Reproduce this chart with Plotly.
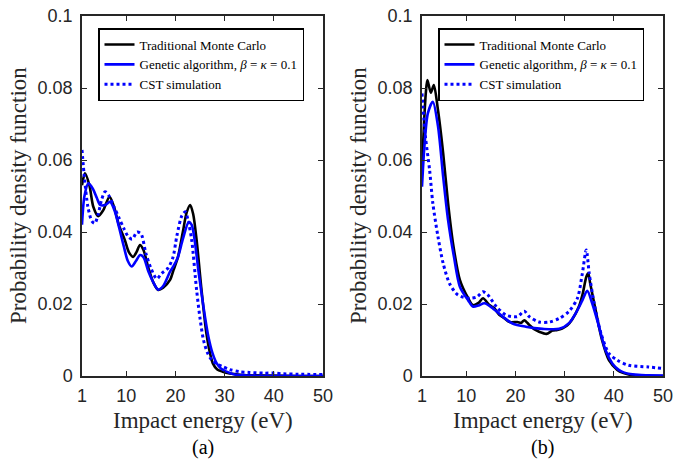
import plotly.graph_objects as go

# ---------------- data ----------------
# Panel (a)
a_mc_E = [1, 1.6, 2.5, 3.3, 4.3, 5.3, 6.6, 7.5, 8.5, 9.7, 10.5, 11.4, 12.1, 12.8, 13.5, 14.5, 15.5,
          16.5, 17.5, 18.9, 19.6, 20.5, 21.5, 22.3, 23.0, 23.6, 24.3, 25.3, 26.3, 27.0, 27.6, 28.5,
          29.6, 31, 32.3, 35, 40, 45, 50]
a_mc_V = [0.053, 0.0563, 0.053, 0.047, 0.0444, 0.046, 0.0498, 0.047, 0.042, 0.0378, 0.0345, 0.0331,
          0.0345, 0.0364, 0.035, 0.030, 0.026, 0.0239, 0.0245, 0.0267, 0.0294, 0.033, 0.040, 0.0455,
          0.0475, 0.045, 0.0378, 0.0239, 0.0118, 0.0065, 0.0035, 0.0018, 0.0012, 0.0007, 0.0005,
          0.0002, 0.0001, 0.0, 0.0]

a_ga_E = [1, 1.5, 2.3, 3.2, 4.0, 4.7, 5.7, 6.7, 7.6, 8.5, 9.5, 10.3, 11.1, 12.0, 12.8, 13.5, 14.5,
          15.5, 16.5, 17.5, 18.9, 19.6, 20.5, 21.5, 22.7, 23.3, 24.0, 24.6, 25.3, 26.0, 26.7, 27.5,
          28.4, 29.3, 30.4, 32, 35, 40, 50]
a_ga_V = [0.042, 0.050, 0.0535, 0.052, 0.0495, 0.0475, 0.0475, 0.0484, 0.046, 0.0415, 0.036, 0.032,
          0.0304, 0.032, 0.0336, 0.033, 0.029, 0.026, 0.024, 0.025, 0.029, 0.0305, 0.033, 0.038,
          0.0428, 0.042, 0.0368, 0.030, 0.023, 0.0165, 0.0109, 0.0065, 0.0035, 0.002, 0.0012,
          0.0004, 0.0001, 0.0, 0.0]

a_cst_E = [1, 1.5, 2.2, 3.0, 3.6, 4.3, 5.0, 5.7, 6.5, 7.5, 8.5, 9.5, 10.4, 11.2, 12.2, 13.0, 14.0,
           15.0, 16.2, 17.2, 18.5, 19.5, 20.3, 21.3, 22.0, 22.6, 23.3, 24.3, 25.0, 25.7, 26.5,
           27.4, 28.5, 29.6, 31, 33, 35, 38, 40, 42, 45, 50]
a_cst_V = [0.0628, 0.055, 0.047, 0.043, 0.0424, 0.045, 0.049, 0.0512, 0.050, 0.047, 0.044, 0.041,
           0.0387, 0.038, 0.040, 0.0395, 0.034, 0.030, 0.027, 0.0285, 0.030, 0.033, 0.039, 0.0445,
           0.0456, 0.043, 0.0378, 0.0239, 0.016, 0.0100, 0.0065, 0.0044, 0.0033, 0.0026, 0.0018,
           0.0012, 0.001, 0.0008, 0.0008, 0.0006, 0.0005, 0.0004]

# Panel (b)
b_mc_E = [1, 1.4, 1.8, 2.1, 2.8, 3.4, 4.25, 5.3, 6.3, 7.3, 8.7, 10.4, 11.35, 12.5, 13.4, 14.7, 15.7,
          16.7, 17.8, 18.8, 20.4, 21.2, 21.8, 22.8, 23.8, 24.8, 26.3, 27.5, 28.5, 29.5, 30.5, 31.5,
          32.9, 33.7, 34.4, 34.8, 35.2, 36.3, 37.6, 39.0, 40.7, 42, 43, 45, 47, 50]
b_mc_V = [0.0572, 0.070, 0.079, 0.0822, 0.0787, 0.0808, 0.0739, 0.0619, 0.048, 0.0369, 0.0267,
          0.0216, 0.0197, 0.0203, 0.0216, 0.0197, 0.0188, 0.017, 0.016, 0.015, 0.015, 0.0148,
          0.0155, 0.0142, 0.013, 0.0123, 0.0117, 0.0126, 0.0128, 0.0132, 0.014, 0.0156, 0.0193,
          0.023, 0.0275, 0.0285, 0.0257, 0.0183, 0.0100, 0.0044, 0.0017, 0.0008, 0.0004, 0.0001,
          0.0, 0.0]

b_ga_E = [1, 1.5, 2.2, 3.2, 4.25, 5.3, 6.3, 7.5, 8.7, 10.4, 11.35, 12.5, 13.7, 15.4, 17.4, 19.4,
          22.1, 25.5, 28.9, 30.9, 32.6, 33.6, 34.6, 35.6, 37.0, 38.3, 39.7, 41, 42, 43, 45, 47, 50]
b_ga_V = [0.0526, 0.064, 0.073, 0.0762, 0.0694, 0.0554, 0.0433, 0.0331, 0.0248, 0.021, 0.0193,
          0.0196, 0.0202, 0.0188, 0.0165, 0.0146, 0.0137, 0.0131, 0.0131, 0.0147, 0.0183, 0.021,
          0.0237, 0.0202, 0.0137, 0.0072, 0.0035, 0.0017, 0.001, 0.0006, 0.0003, 0.0002, 0.0001]

b_cst_E = [1, 1.7, 2.55, 3.2, 4.25, 5.3, 6.6, 8.3, 10.7, 12.2, 13.4, 14.4, 16.1, 18.1, 20.4, 21.8,
           22.8, 24.8, 26.9, 28.9, 30.9, 32.6, 33.6, 34.4, 35.0, 36.0, 37.4, 39.0, 40.7, 43, 47, 50]
b_cst_V = [0.0785, 0.0665, 0.0572, 0.048, 0.0387, 0.0313, 0.0257, 0.0225, 0.0216, 0.022, 0.0234,
           0.0225, 0.0193, 0.0169, 0.0165, 0.018, 0.0165, 0.015, 0.015, 0.016, 0.018, 0.0216,
           0.0285, 0.035, 0.0285, 0.0202, 0.0118, 0.0063, 0.0044, 0.003, 0.0025, 0.0021]

x_ticks = [1, 10, 20, 30, 40, 50]
y_ticks = [0, 0.02, 0.04, 0.06, 0.08, 0.1]
y_tick_text = ["0", "0.02", "0.04", "0.06", "0.08", "0.1"]

names = ["Traditional Monte Carlo",
         "Genetic algorithm, <i>β</i> = <i>κ</i> = 0.1",
         "CST simulation"]
panel_labels = ["(a)", "(b)"]
x_title = "Impact energy (eV)"
y_title = "Probability density function"

# ---------------- figure ----------------
fig = go.Figure()
BLACK = "#000000"
BLUE = "#0000FF"
SERIF = "Liberation Serif"
SANS = "Liberation Sans"
AX = "#262626"

panels = [
    ("x", "y", "legend", a_mc_E, a_mc_V, a_ga_E, a_ga_V, a_cst_E, a_cst_V),
    ("x2", "y2", "legend2", b_mc_E, b_mc_V, b_ga_E, b_ga_V, b_cst_E, b_cst_V),
]
for xa, ya, lg, mE, mV, gE, gV, cE, cV in panels:
    fig.add_trace(go.Scatter(x=mE, y=mV, mode="lines", name=names[0], xaxis=xa, yaxis=ya,
                             legend=lg, line=dict(color=BLACK, width=2.6, shape="spline", smoothing=0.8)))
    fig.add_trace(go.Scatter(x=gE, y=gV, mode="lines", name=names[1], xaxis=xa, yaxis=ya,
                             legend=lg, line=dict(color=BLUE, width=2.6, shape="spline", smoothing=0.8)))
    fig.add_trace(go.Scatter(x=cE, y=cV, mode="lines", name=names[2], xaxis=xa, yaxis=ya,
                             legend=lg, line=dict(color=BLUE, width=3, dash="dot", shape="spline", smoothing=0.8)))

W, H = 673, 460


def px(x):
    return x / W


def py(y):
    return 1 - y / H


xdom1 = [px(82), px(323)]
xdom2 = [px(422), px(663)]
ydom = [py(376), py(16)]

axis_common = dict(showline=True, linecolor=AX, linewidth=1.5, mirror="ticks", ticks="inside",
                   ticklen=5, tickwidth=1.2, tickcolor=AX, showgrid=False, zeroline=False,
                   automargin=False, ticklabeloverflow="allow",
                   tickfont=dict(family=SANS, size=18, color=AX))

legend_common = dict(xanchor="left", yanchor="top", bgcolor="white",
                     bordercolor="#000000", borderwidth=1.5,
                     font=dict(family=SERIF, size=13, color="#000"),
                     tracegroupgap=0, itemwidth=30)

fig.update_layout(
    width=W, height=H, margin=dict(l=0, r=0, t=0, b=0, pad=0, autoexpand=False),
    paper_bgcolor="white", plot_bgcolor="white",
    font=dict(family=SANS),
    xaxis=dict(domain=xdom1, range=[1, 50], tickvals=x_ticks, anchor="y", ticklabelstandoff=3, **axis_common),
    yaxis=dict(domain=ydom, range=[0, 0.1], tickvals=y_ticks, ticktext=y_tick_text, anchor="x",
               ticklabelstandoff=4, **axis_common),
    xaxis2=dict(domain=xdom2, range=[1, 50], tickvals=x_ticks, anchor="y2", ticklabelstandoff=3, **axis_common),
    yaxis2=dict(domain=ydom, range=[0, 0.1], tickvals=y_ticks, ticktext=y_tick_text, anchor="x2",
                ticklabelstandoff=4, **axis_common),
    showlegend=True,
    legend=dict(x=px(98), y=py(28), **legend_common),
    legend2=dict(x=px(438), y=py(28), **legend_common),
)

annos = []
for dom, lab in zip([xdom1, xdom2], panel_labels):
    cx = (dom[0] + dom[1]) / 2
    annos.append(dict(text=x_title, x=cx, y=py(420), xref="paper", yref="paper",
                      showarrow=False, xanchor="center", yanchor="middle",
                      font=dict(family=SERIF, size=23, color="#262626")))
    annos.append(dict(text=lab, x=cx, y=py(447), xref="paper", yref="paper",
                      showarrow=False, xanchor="center", yanchor="middle",
                      font=dict(family=SERIF, size=20, color="#000")))
    annos.append(dict(text=y_title, x=dom[0] - 64 / W, y=py(196), xref="paper", yref="paper",
                      showarrow=False, xanchor="center", yanchor="middle", textangle=-90,
                      font=dict(family=SERIF, size=23, color="#262626")))
fig.update_layout(annotations=annos)

# remove the browser's default 8 px body margin so the figure fills the window exactly;
# hide the interactive mode bar
fig.write_html("out.html", config={"displayModeBar": False},
               post_script="document.body.style.margin = '0';")
